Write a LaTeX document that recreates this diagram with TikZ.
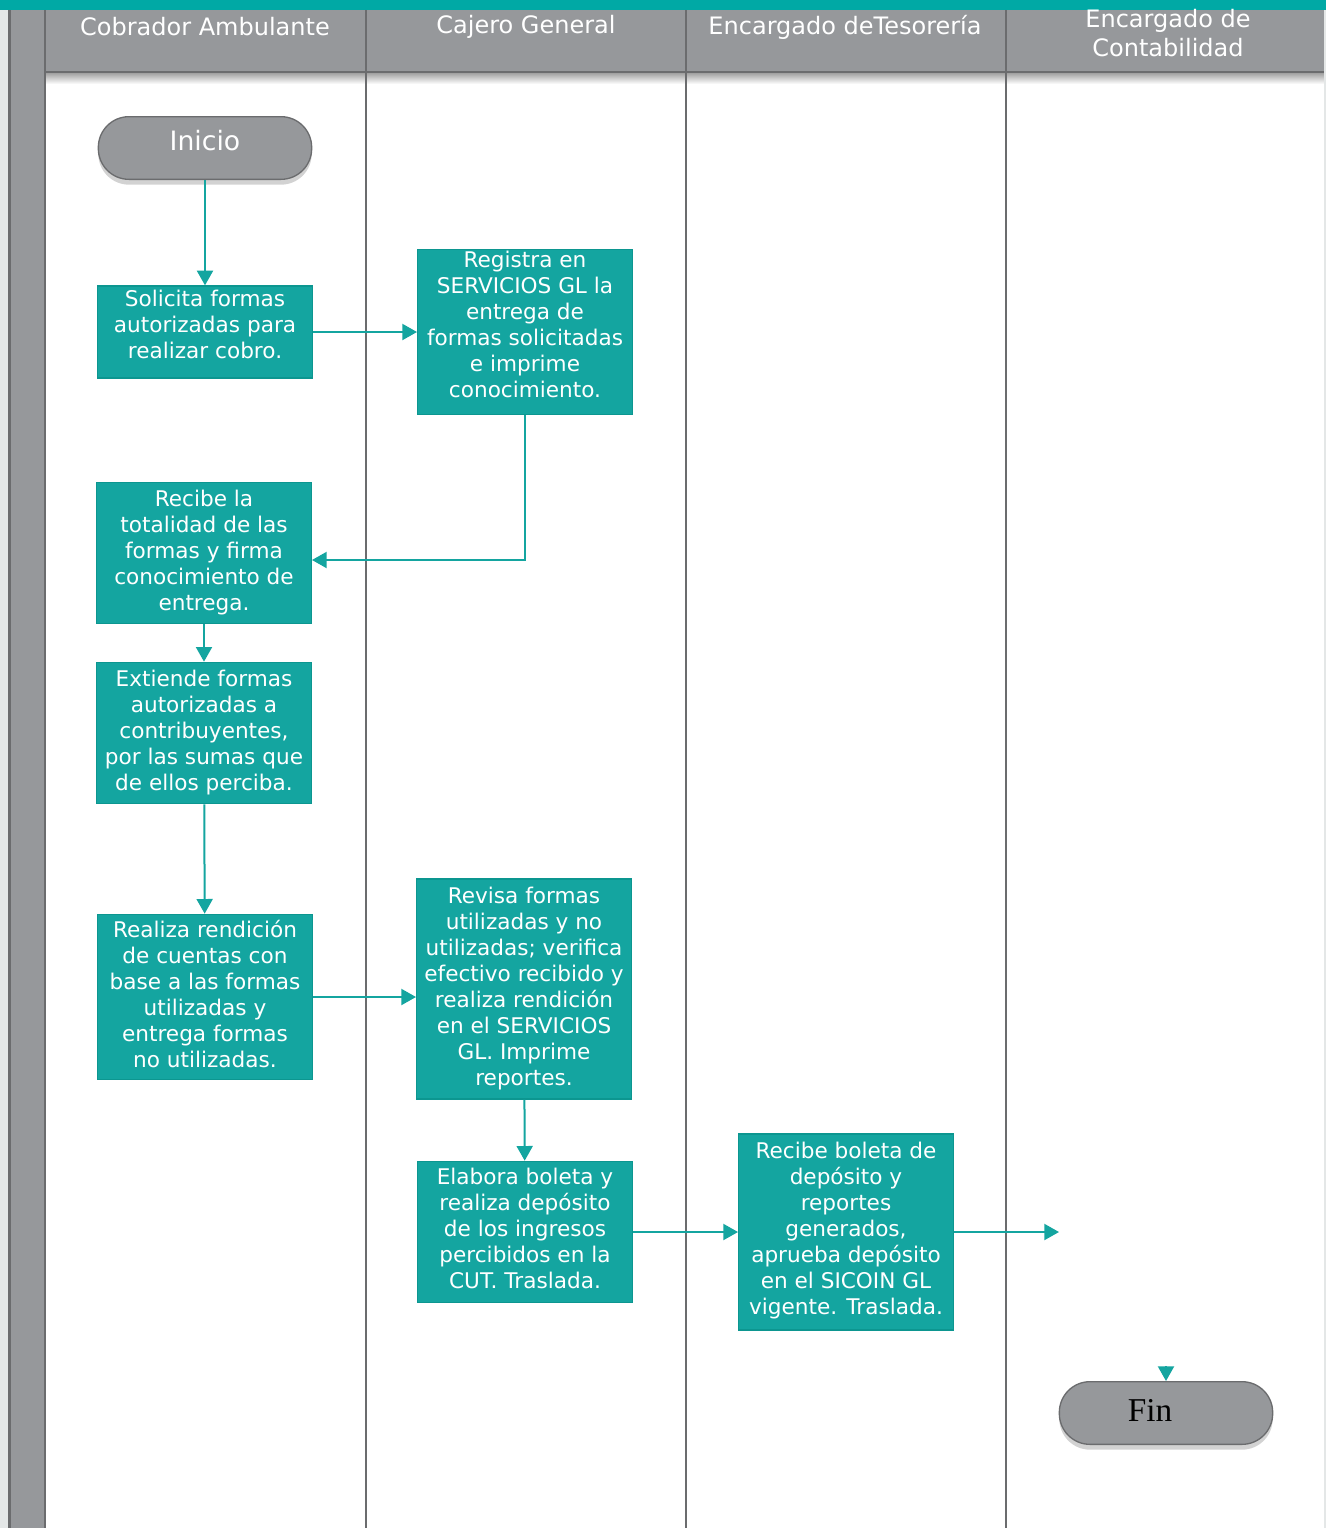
\documentclass[tikz,border=0pt]{standalone}
\usepackage{fontspec}
\setmainfont{DejaVu Sans}
\newfontfamily\finfont{Liberation Serif}
\usetikzlibrary{arrows.meta,shadows}
\definecolor{tealtop}{HTML}{00A9A5}
\definecolor{boxteal}{HTML}{14A5A0}
\definecolor{boxedge}{HTML}{0C9690}
\definecolor{lanegray}{HTML}{96989B}
\definecolor{darkline}{HTML}{6B6C6E}
\definecolor{margingray}{HTML}{E4E7E7}
\begin{document}
\begin{tikzpicture}[x=0.75pt,y=-0.75pt,
  proc/.style={draw=boxedge, line width=1pt, fill=boxteal, text=white, align=center,
    minimum width=161pt, inner sep=0pt,
    font=\fontsize{16.2}{19.5}\selectfont},
  term/.style={draw=darkline, line width=1pt, fill=lanegray, rounded corners=23pt,
    minimum width=160pt, minimum height=47pt, inner sep=0pt,
    drop shadow={shadow xshift=0pt, shadow yshift=-4pt, opacity=0.35}},
  lanehead/.style={text=white, align=center, font=\fontsize{18}{21.5}\selectfont},
  arr/.style={draw=boxteal, line width=1.5pt, -{Triangle[width=12pt,length=11pt]}},
  divider/.style={draw=darkline, line width=1.5pt}
]
\useasboundingbox (0,0) rectangle (1326,1528);
% background and frame
\fill[white] (0,0) rectangle (1326,1528);
\fill[margingray] (0,0) rectangle (8,1528);
\fill[lanegray] (8,10) rectangle (46,1528);
\draw[darkline, line width=2pt] (9.5,10) -- (9.5,1528);
\draw[darkline, line width=2pt] (45,10) -- (45,1528);
% header band
\shade[top color=black!40, bottom color=white] (46,72) rectangle (1326,84);
\fill[lanegray] (46,10) rectangle (1326,72);
\draw[darkline, line width=1.5pt] (46,72) -- (1326,72);
\fill[tealtop] (0,0) rectangle (1326,10);
% lane dividers
\draw[divider] (366,10) -- (366,1528);
\draw[divider] (686,10) -- (686,1528);
\draw[divider] (1006,10) -- (1006,1528);
\draw[margingray, line width=1.5pt] (1325,10) -- (1325,1528);
% lane titles
\node[lanehead] (h1) at (205,27) {Cobrador Ambulante};
\node[lanehead] (h2) at (526,27) {Cajero General};
\node[lanehead] (h3) at (845,27) {Encargado deTesorería};
\node[lanehead] (h4) at (1168,33) {Encargado de\\Contabilidad};
% nodes
\node[term, text=white, text depth=12pt, font=\fontsize{20}{22}\selectfont] (inicio) at (205,148) {Inicio};
\node[proc, minimum height=69pt, text depth=11pt] (solicita) at (205,332) {Solicita formas\\autorizadas para\\realizar cobro.};
\node[proc, minimum height=124pt, text depth=11pt] (registra) at (525,332) {Registra en\\SERVICIOS GL la\\entrega de\\formas solicitadas\\e imprime\\conocimiento.};
\node[proc, minimum height=106pt] (recibe) at (204,553) {Recibe la\\totalidad de las\\formas y firma\\conocimiento de\\entrega.};
\node[proc, minimum height=106pt] (extiende) at (204,733) {Extiende formas\\autorizadas a\\contribuyentes,\\por las sumas que\\de ellos perciba.};
\node[proc, minimum height=124pt, text depth=5pt] (realiza) at (205,997) {Realiza rendición\\de cuentas con\\base a las formas\\utilizadas y\\entrega formas\\no utilizadas.};
\node[proc, minimum height=165pt] (revisa) at (524,989) {Revisa formas\\utilizadas y no\\utilizadas; verifica\\efectivo recibido y\\realiza rendición\\en el SERVICIOS\\GL. Imprime\\reportes.};
\node[proc, minimum height=106pt, text depth=5pt] (elabora) at (525,1232) {Elabora boleta y\\realiza depósito\\de los ingresos\\percibidos en la\\CUT. Traslada.};
\node[proc, minimum height=147pt, text depth=5pt] (boleta) at (846,1232) {Recibe boleta de\\depósito y\\reportes\\generados,\\aprueba depósito\\en el SICOIN GL\\vigente. Traslada.};
\node[term, label={[font=\finfont\fontsize{25}{26}\selectfont, xshift=-12pt, yshift=2pt]center:Fin}] (fin) at (1166,1413) {};
% connectors
\coordinate (bend1) at (525,560);
\coordinate (out1) at (1059,1232);
\coordinate (finin) at (1166,1366);
\draw[arr] (inicio) -- (solicita);
\draw[arr] (solicita) -- (registra);
\draw[arr] (registra.south) |- (recibe.east |- bend1);
\draw[arr] (recibe) -- (extiende);
\draw[arr] (extiende) -- (realiza);
\draw[arr] (realiza.east |- 0,997) -- (revisa.west |- 0,997);
\draw[arr] (revisa) -- (elabora);
\draw[arr] (elabora) -- (boleta);
\draw[arr] (boleta) -- (out1);
\draw[arr] (finin) -- (fin.north);
\end{tikzpicture}
\end{document}
